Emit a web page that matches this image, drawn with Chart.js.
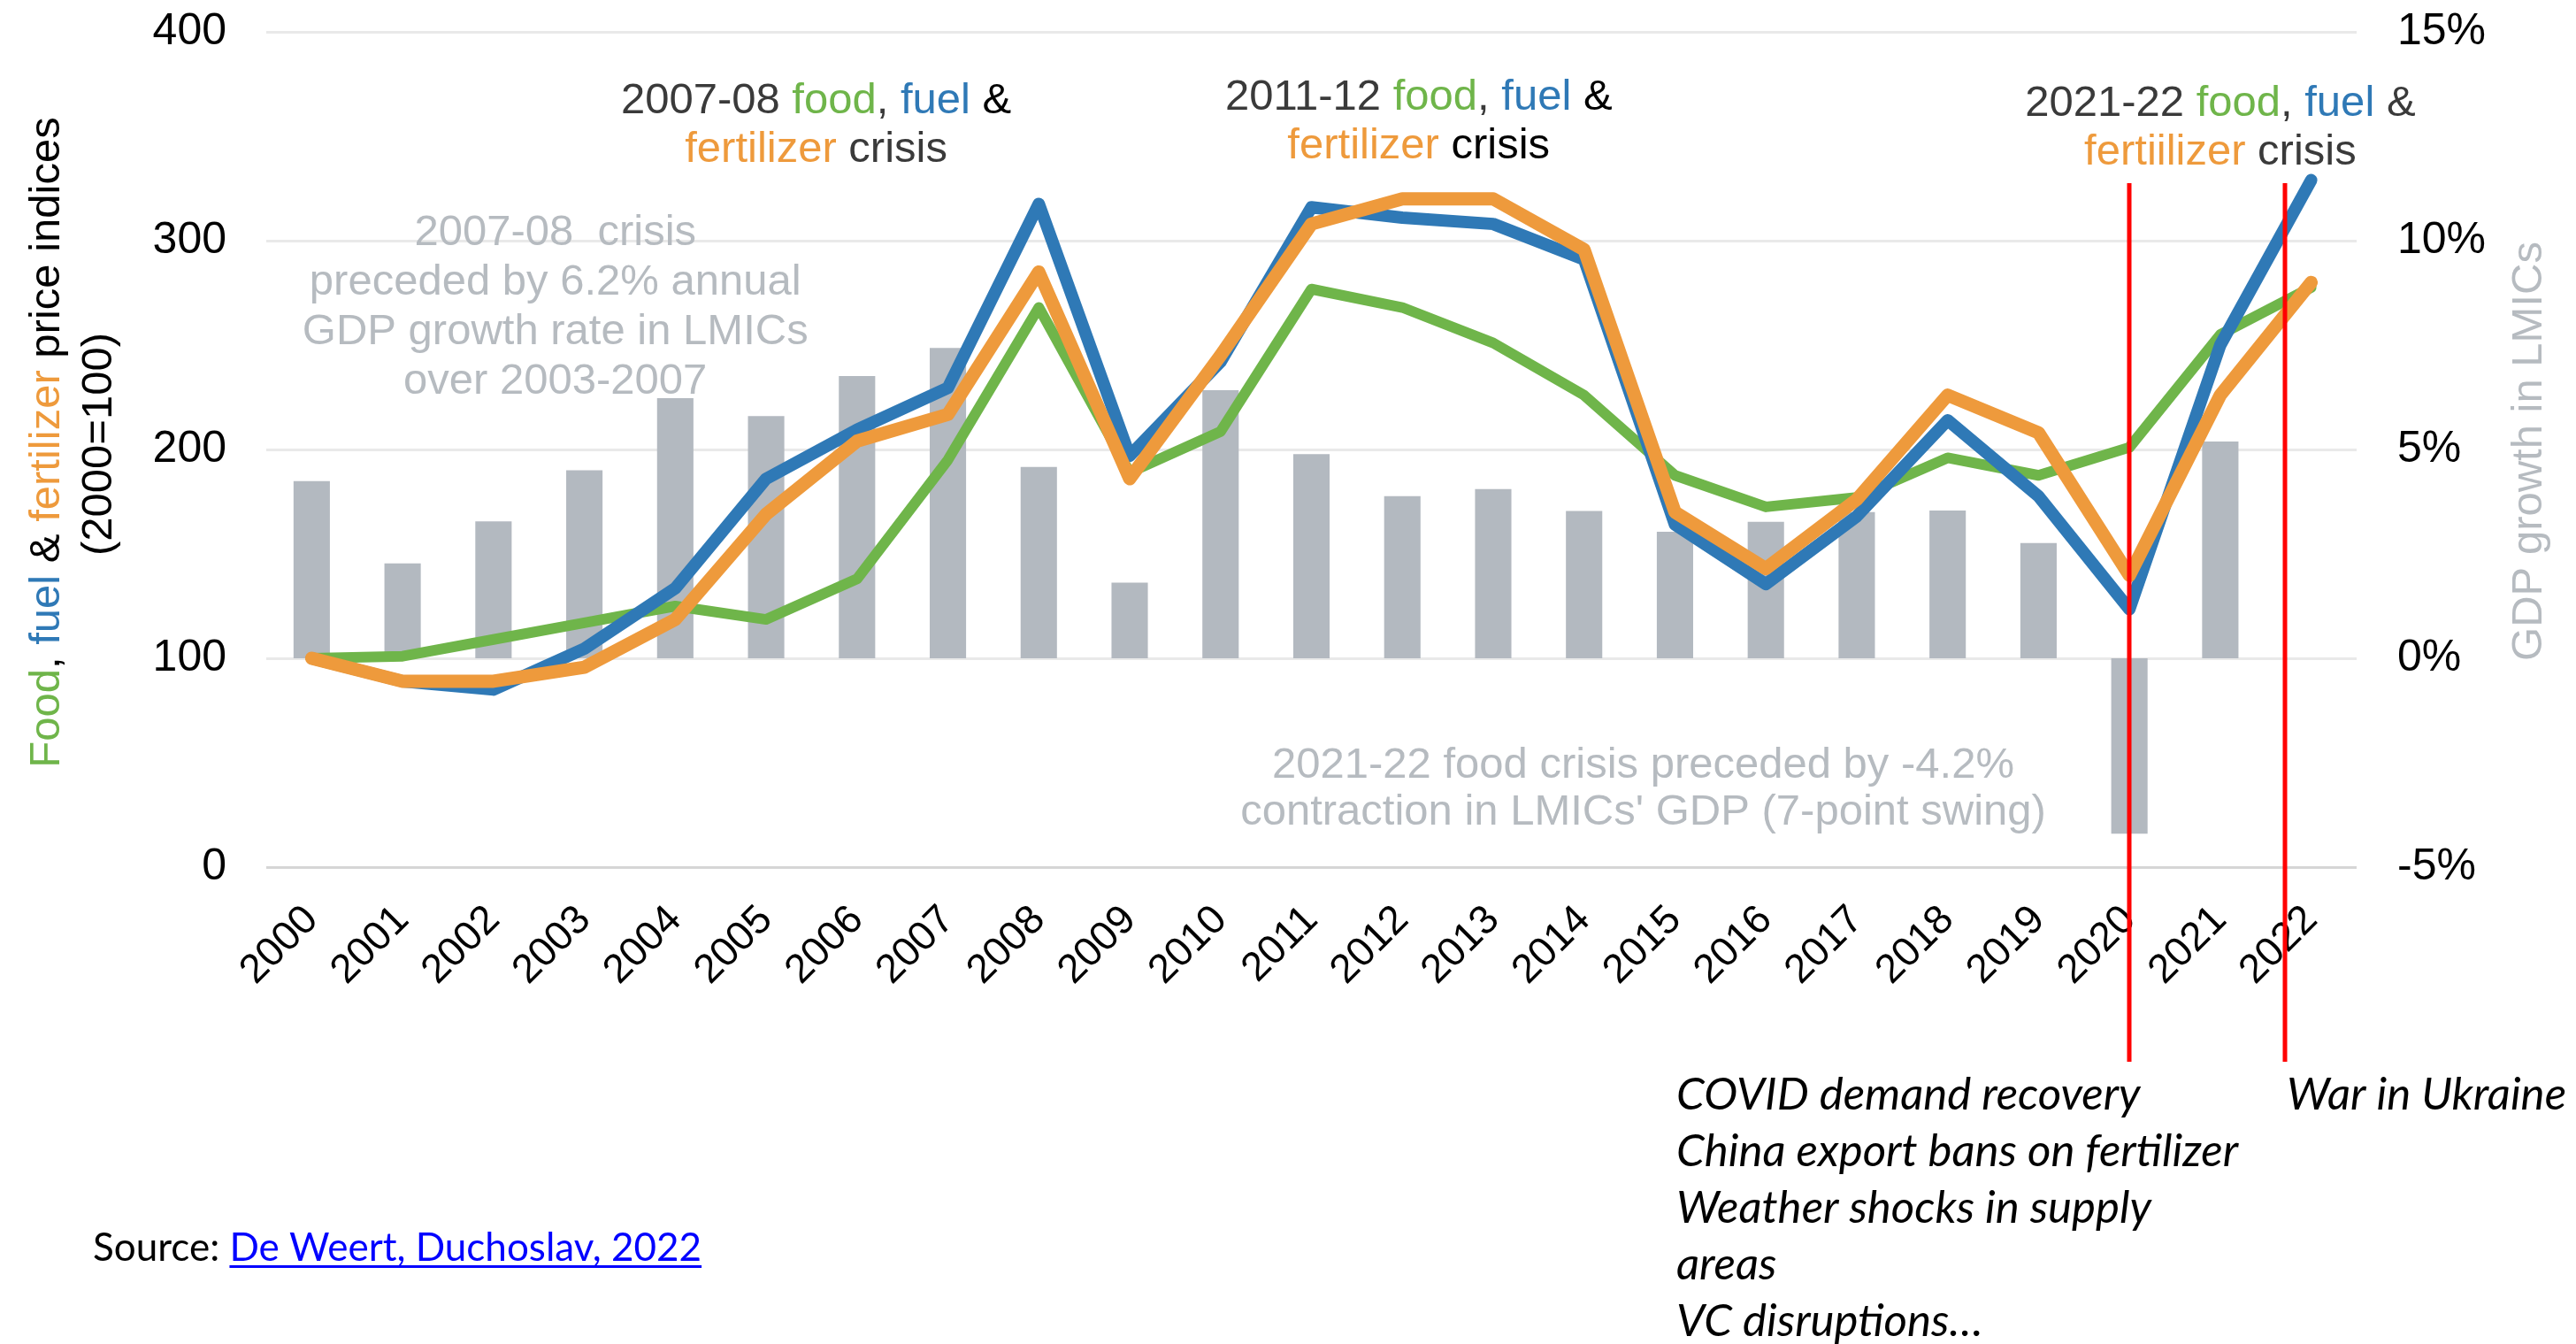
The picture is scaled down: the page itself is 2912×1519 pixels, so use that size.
<!DOCTYPE html>
<html>
<head>
<meta charset="utf-8">
<script src="https://cdn.jsdelivr.net/npm/chart.js@4.4.1/dist/chart.umd.min.js"></script>
<style>
  html, body { margin: 0; padding: 0; background: #fff; }
  #c { display: block; }
</style>
</head>
<body>
<canvas id="c" width="2912" height="1519"></canvas>
<script>
// values
const years = ['2000', '2001', '2002', '2003', '2004', '2005', '2006', '2007', '2008', '2009', '2010', '2011',
    '2012', '2013', '2014', '2015', '2016', '2017', '2018', '2019', '2020', '2021', '2022'];
const foodIndex = [100, 101, 109, 117, 125, 118.6, 138, 195, 268, 189, 208.6, 276.8,
    268, 251, 226, 187.6, 172.5, 177, 196, 187.6, 201, 255, 277.6];
const fuelIndex = [100, 89, 85, 104.6, 133.5, 186, 209.5, 229.5, 317.6, 197, 242, 316,
    311, 308, 291, 164, 135.5, 168, 214, 177.6, 123.5, 250, 329];
const fertIndex = [100, 89, 89, 95.7, 118.6, 169, 204, 216.8, 285, 186, 245, 308,
    320, 320, 295.7, 170, 143, 176, 226, 208, 139.7, 226, 280];
const gdpGrowth = [4.24, 2.27, 3.28, 4.5, 6.23, 5.8, 6.76, 7.43, 4.58, 1.81, 6.42, 4.89,
    3.88, 4.05, 3.53, 3.03, 3.27, 3.5, 3.54, 2.76, -4.2, 5.19, null];
const leftTicks = [0, 100, 200, 300, 400];
const rightTicks = [-5, 0, 5, 10, 15];

const GREEN = '#6fb54a';
const BLUE = '#2f79b6';
const ORANGE = '#ee9a3c';
const BAR_GRAY = '#b3b9c0';
const TEXT_GRAY = '#b6bbc0';
const DARK = '#3a3a3a';
const SANS = '"Liberation Sans", Arial, sans-serif';

// draw a line of text made of coloured pieces
function drawParts(ctx, parts, x, y, align) {
    let total = 0;
    parts.forEach(p => total += ctx.measureText(p[0]).width);
    let cur = align === 'left' ? x : x - total / 2;
    parts.forEach(p => {
        ctx.fillStyle = p[1];
        ctx.fillText(p[0], cur, y);
        cur += ctx.measureText(p[0]).width;
    });
}

const crisisTitles = [
    { at: 5.55, val: 361, lines: [[['2007-08 ', DARK], ['food', GREEN], [', ', DARK], ['fuel', BLUE], [' &', '#000']],
        [['fertilizer', ORANGE], [' crisis', DARK]]] },
    { at: 12.18, val: 362.7, lines: [[['2011-12 ', DARK], ['food', GREEN], [', ', DARK], ['fuel', BLUE], [' &', '#000']],
        [['fertilizer', ORANGE], [' crisis', '#000']]] },
    { at: 21.0, val: 359.7, lines: [[['2021-22 ', DARK], ['food', GREEN], [', ', DARK], ['fuel', BLUE], [' &', DARK]],
        [['fertiilizer', ORANGE], [' crisis', DARK]]] }
];

const grayNotes = [
    { at: 2.68, val: 297.9, gap: 56, lines: ['2007-08  crisis', 'preceded by 6.2% annual', 'GDP growth rate in LMICs', 'over 2003-2007'] },
    { at: 14.65, val: 42.8, gap: 53, lines: ['2021-22 food crisis preceded by -4.2%', "contraction in LMICs' GDP (7-point swing)"] }
];

// keep the tick labels from pushing the plot area around
function noOverhang(s) {
    s.paddingTop = 0;
    s.paddingBottom = 0;
    s.paddingLeft = 0;
    s.paddingRight = 0;
}

const overlay = {
    id: 'overlay',
    afterDraw(chart) {
        const ctx = chart.ctx;
        const xs = chart.scales.x;
        const ys = chart.scales.y;
        const area = chart.chartArea;
        ctx.save();
        ctx.textBaseline = 'alphabetic';
        ctx.textAlign = 'left';

        // crisis titles
        ctx.font = '49px ' + SANS;
        crisisTitles.forEach(t => {
            const cx = xs.getPixelForValue(t.at);
            const y0 = ys.getPixelForValue(t.val);
            t.lines.forEach((ln, k) => drawParts(ctx, ln, cx, y0 + k * 55, 'center'));
        });

        // grey notes
        ctx.fillStyle = TEXT_GRAY;
        ctx.textAlign = 'center';
        grayNotes.forEach(n => {
            const cx = xs.getPixelForValue(n.at);
            const y0 = ys.getPixelForValue(n.val);
            n.lines.forEach((ln, k) => ctx.fillText(ln, cx, y0 + k * n.gap));
        });
        ctx.textAlign = 'left';

        // left axis title
        ctx.save();
        ctx.translate(67, 500);
        ctx.rotate(-Math.PI / 2);
        drawParts(ctx, [['Food', GREEN], [', ', '#000'], ['fuel', BLUE], [' & ', '#000'],
            ['fertilizer', ORANGE], [' price indices', '#000']], 0, 0, 'center');
        ctx.restore();
        ctx.save();
        ctx.translate(126, 502);
        ctx.rotate(-Math.PI / 2);
        drawParts(ctx, [['(2000=100)', '#000']], 0, 0, 'center');
        ctx.restore();

        // right axis title
        ctx.save();
        ctx.translate(2873, 510);
        ctx.rotate(-Math.PI / 2);
        drawParts(ctx, [['GDP growth in LMICs', TEXT_GRAY]], 0, 0, 'center');
        ctx.restore();

        // red event markers
        ctx.strokeStyle = '#ff0000';
        ctx.lineWidth = 5;
        [20, 21.71].forEach(i => {
            const xp = Math.round(xs.getPixelForValue(i));
            ctx.beginPath();
            ctx.moveTo(xp, ys.getPixelForValue(327.5));
            ctx.lineTo(xp, area.bottom + 220);
            ctx.stroke();
        });

        // notes under the chart
        ctx.fillStyle = '#000';
        ctx.font = 'italic 51px Lato, "Open Sans", sans-serif';
        const notes = ['COVID demand recovery', 'China export bans on fertilizer', 'Weather shocks in supply', 'areas', 'VC disruptions\u2026'];
        notes.forEach((s, k) => ctx.fillText(s, 1895, 1254 + k * 64));
        ctx.fillText('War in Ukraine', 2585, 1254);

        // source line
        ctx.font = '44px Lato, "Open Sans", sans-serif';
        ctx.fillText('Source: ', 105, 1425);
        const sx = 105 + ctx.measureText('Source: ').width;
        const link = 'De Weert, Duchoslav, 2022';
        ctx.fillStyle = '#0000ff';
        ctx.fillText(link, sx, 1425);
        ctx.fillRect(sx, 1430, ctx.measureText(link).width, 3);

        ctx.restore();
    }
};

new Chart(document.getElementById('c'), {
    data: {
        labels: years,
        datasets: [
            { type: 'line', label: 'Fertilizer', data: fertIndex, yAxisID: 'y', borderColor: ORANGE,
              borderWidth: 15, order: 1 },
            { type: 'line', label: 'Fuel', data: fuelIndex, yAxisID: 'y', borderColor: BLUE,
              borderWidth: 14, order: 2 },
            { type: 'line', label: 'Food', data: foodIndex, yAxisID: 'y', borderColor: GREEN,
              borderWidth: 12, order: 3 },
            { type: 'bar', label: 'GDP growth', data: gdpGrowth, yAxisID: 'y2', backgroundColor: BAR_GRAY,
              categoryPercentage: 1, barPercentage: 0.4, order: 4 }
        ]
    },
    options: {
        responsive: false,
        animation: false,
        devicePixelRatio: 1,
        layout: { padding: { top: 36, left: 0, right: 0, bottom: 0 } },
        elements: {
            line: { tension: 0, borderCapStyle: 'round', borderJoinStyle: 'round' },
            point: { radius: 0 }
        },
        plugins: { legend: { display: false }, tooltip: { enabled: false } },
        scales: {
            x: {
                offset: true,
                grid: { display: false, drawTicks: false },
                border: { display: false },
                ticks: { color: '#000', font: { family: SANS, size: 46 }, minRotation: 45, maxRotation: 45,
                    autoSkip: false, padding: 33 },
                afterFit: s => { s.height = 1519 - 980; noOverhang(s); }
            },
            y: {
                position: 'left',
                min: leftTicks[0], max: leftTicks[leftTicks.length - 1],
                afterBuildTicks: s => { s.ticks = leftTicks.map(v => ({ value: v })); },
                grid: { color: c => c.tick && c.tick.value === 0 ? '#d6d6d6' : '#e9e9e9', lineWidth: 3, drawTicks: false },
                border: { display: false },
                ticks: { color: '#000', font: { family: SANS, size: 50 }, padding: 45 },
                afterFit: s => { s.width = 301; noOverhang(s); }
            },
            y2: {
                position: 'right',
                min: rightTicks[0], max: rightTicks[rightTicks.length - 1],
                afterBuildTicks: s => { s.ticks = rightTicks.map(v => ({ value: v })); },
                grid: { display: false, drawTicks: false },
                border: { display: false },
                ticks: { color: '#000', font: { family: SANS, size: 50 }, padding: 46, callback: v => v + '%' },
                afterFit: s => { s.width = 2912 - 2664; noOverhang(s); }
            }
        }
    },
    plugins: [overlay]
});
</script>
</body>
</html>
